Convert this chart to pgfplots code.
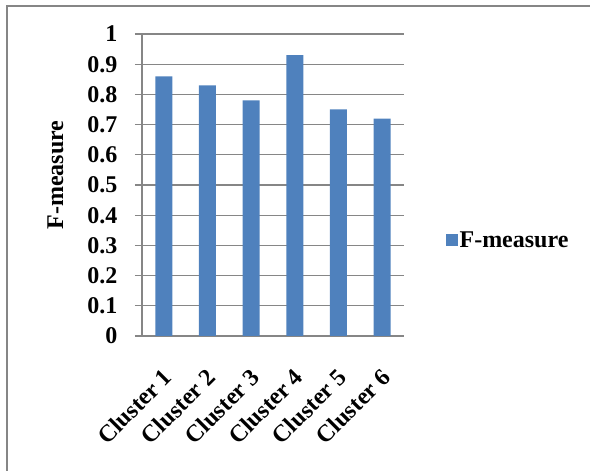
\documentclass[border=0pt]{standalone}
\usepackage{fontspec}
\setmainfont{Liberation Serif}
\usepackage{pgfplots}
\pgfplotsset{compat=1.18}

\definecolor{barblue}{HTML}{4F81BD}
\definecolor{gridgray}{RGB}{134,134,134}
\newcommand{\chartfont}{\fontsize{24}{28}\selectfont\bfseries}

\begin{document}
\begin{tikzpicture}
\useasboundingbox (0pt,0pt) rectangle (590pt,471pt);
\draw[gridgray, line width=1.5pt] (7pt,0pt) -- (7pt,465pt) -- (590pt,465pt);
\begin{axis}[
    at={(142pt,135pt)}, anchor=south west,
    scale only axis,
    width=262pt, height=302pt,
    axis lines*=left,
    axis line style={gridgray, line width=1.3pt},
    ybar, bar width=17pt,
    xmin=0.5, xmax=6.5,
    ymin=0, ymax=1,
    xtick={1,...,6},
    xticklabels={Cluster 1,Cluster 2,Cluster 3,Cluster 4,Cluster 5,Cluster 6},
    x tick style={draw=none},
    minor xtick={0.5,1.5,...,6.5},
    minor tick length=7pt,
    major tick length=7pt,
    tick align=outside,
    tick style={gridgray, line width=1.3pt},
    ytick={0,0.1,...,1.0},
    yticklabels={0,0.1,0.2,0.3,0.4,0.5,0.6,0.7,0.8,0.9,1},
    ymajorgrids,
    major grid style={gridgray, line width=1.3pt},
    tick label style={font=\chartfont},
    x tick label style={rotate=45, anchor=north east, inner sep=0pt, xshift=-3pt},
    xticklabel shift=22pt,
    yticklabel shift=14pt,
    ylabel={F-measure},
    ylabel style={font=\chartfont, at={(axis description cs:-0.33,0.533)}, anchor=center},
    legend style={draw=none, font=\chartfont, at={(axis description cs:1.158,0.318)}, anchor=west, inner sep=0pt},
    legend cell align=left,
    legend image code/.code={\fill[barblue] (0pt,-6pt) rectangle (12pt,6pt);},
]
\addplot[fill=barblue, draw=none] coordinates {(1,0.86) (2,0.83) (3,0.78) (4,0.93) (5,0.75) (6,0.72)};
\addlegendentry{F-measure}
\end{axis}
\end{tikzpicture}
\end{document}
